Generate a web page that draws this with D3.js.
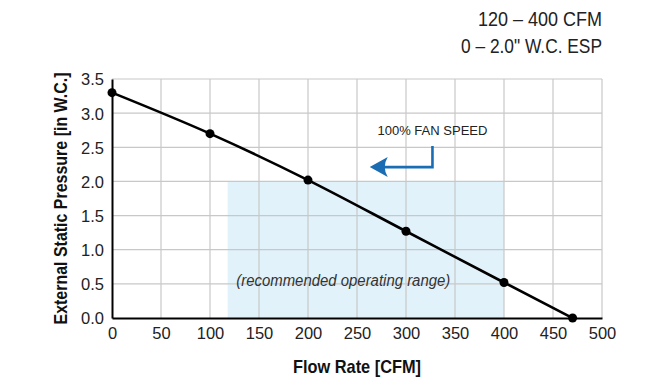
<!DOCTYPE html>
<html>
<head>
<meta charset="utf-8">
<script src="https://cdn.jsdelivr.net/npm/d3@7"></script>
<style>
  html, body { margin: 0; padding: 0; background: #fff; }
  svg text { font-family: "Liberation Sans", Arial, Helvetica, sans-serif; }
</style>
</head>
<body>
<svg id="chart" width="665" height="380"></svg>
<script>
// ---- data ----
const flowRate = [0, 100, 200, 300, 400, 470];          // CFM
const staticPressure = [3.3, 2.7, 2.02, 1.27, 0.52, 0]; // in W.C.
const xTicks = [0, 50, 100, 150, 200, 250, 300, 350, 400, 450, 500];
const yTicks = [0, 0.5, 1.0, 1.5, 2.0, 2.5, 3.0, 3.5];
const rangeFlow = [118, 400];      // recommended operating range (CFM)
const rangePressure = [0, 2.0];    // recommended operating range (in W.C.)
const headerLines = ["120 \u2013 400 CFM", "0 \u2013 2.0\" W.C. ESP"];
const xTitle = "Flow Rate [CFM]";
const yTitle = "External Static Pressure [in W.C.]";
const rangeLabel = "(recommended operating range)";
const speedLabel = "100% FAN SPEED";

// ---- layout ----
const W = 665, H = 380;
const m = { left: 112, right: 63, top: 79, bottom: 62 };
const svg = d3.select("#chart");

const x = d3.scaleLinear().domain([0, 500]).range([m.left, W - m.right]);
const y = d3.scaleLinear().domain([0, 3.5]).range([H - m.bottom, m.top]);

const fitText = (sel, len) => sel.attr("textLength", len).attr("lengthAdjust", "spacingAndGlyphs");

// shaded recommended range
svg.append("rect")
  .attr("x", x(rangeFlow[0]))
  .attr("y", y(rangePressure[1]))
  .attr("width", x(rangeFlow[1]) - x(rangeFlow[0]))
  .attr("height", y(rangePressure[0]) - y(rangePressure[1]))
  .attr("fill", "#e2f2fb");

// grid
svg.append("g").selectAll("line").data(xTicks.slice(1)).join("line")
  .attr("x1", d => x(d)).attr("x2", d => x(d))
  .attr("y1", y(0)).attr("y2", y(3.5))
  .attr("stroke", "#c8c8c8").attr("stroke-width", 1.2);
svg.append("g").selectAll("line").data(yTicks.slice(1)).join("line")
  .attr("x1", x(0)).attr("x2", x(500))
  .attr("y1", d => y(d)).attr("y2", d => y(d))
  .attr("stroke", "#c8c8c8").attr("stroke-width", 1.2);

// axes
const xAxis = svg.append("g").attr("transform", `translate(0,${y(0)})`)
  .call(d3.axisBottom(x).tickValues(xTicks).tickSize(0).tickPadding(9).tickFormat(d3.format("d")));
const yAxis = svg.append("g").attr("transform", `translate(${x(0)},0)`)
  .call(d3.axisLeft(y).tickValues(yTicks).tickSize(0).tickPadding(8).tickFormat(d3.format(".1f")));
[xAxis, yAxis].forEach(a => {
  a.select(".domain").attr("stroke", "#000").attr("stroke-width", 2);
  a.selectAll("text").attr("font-size", 16.5).attr("fill", "#222")
    .style("font-family", '"Liberation Sans", Arial, sans-serif');
});
yAxis.selectAll("text").attr("dy", "0.36em");

// curve
const pts = flowRate.map((f, i) => [f, staticPressure[i]]);
svg.append("path")
  .datum(pts)
  .attr("fill", "none").attr("stroke", "#000").attr("stroke-width", 2.6)
  .attr("d", d3.line().x(d => x(d[0])).y(d => y(d[1])).curve(d3.curveMonotoneX));
svg.append("g").selectAll("circle").data(pts).join("circle")
  .attr("cx", d => x(d[0])).attr("cy", d => y(d[1])).attr("r", 4.5).attr("fill", "#000");

// range label
svg.append("text")
  .attr("x", x(236)).attr("y", y(0.47))
  .attr("text-anchor", "middle").attr("font-size", 16).attr("font-style", "italic").attr("fill", "#333")
  .text(rangeLabel).call(fitText, 214);

// fan speed annotation
svg.append("text")
  .attr("x", x(327)).attr("y", y(2.68))
  .attr("text-anchor", "middle").attr("font-size", 13.5).attr("fill", "#222")
  .text(speedLabel).call(fitText, 110);
const blue = "#1b6db3";
const ax = x(327), ay0 = y(2.52), ay1 = y(2.21), tipX = x(263);
svg.append("path")
  .attr("d", `M${ax},${ay0} V${ay1} H${tipX + 14}`)
  .attr("fill", "none").attr("stroke", blue).attr("stroke-width", 2.6);
svg.append("path")
  .attr("d", `M${tipX},${ay1} L${tipX + 18},${ay1 - 10} Q${tipX + 12},${ay1} ${tipX + 18},${ay1 + 10} Z`)
  .attr("fill", blue);

// header
headerLines.forEach((t, i) => {
  svg.append("text")
    .attr("x", W - m.right).attr("y", 26 + i * 27)
    .attr("text-anchor", "end").attr("font-size", 19.5).attr("fill", "#222")
    .text(t).call(fitText, i === 0 ? 124 : 141);
});

// axis titles
svg.append("text")
  .attr("x", (x(0) + x(500)) / 2).attr("y", 373)
  .attr("text-anchor", "middle").attr("font-size", 18.5).attr("font-weight", "bold").attr("fill", "#111")
  .text(xTitle).call(fitText, 128);
svg.append("text")
  .attr("transform", `translate(67,${(y(0) + y(3.5)) / 2}) rotate(-90)`)
  .attr("text-anchor", "middle").attr("font-size", 18.5).attr("font-weight", "bold").attr("fill", "#111")
  .text(yTitle).call(fitText, 252);
</script>
</body>
</html>
